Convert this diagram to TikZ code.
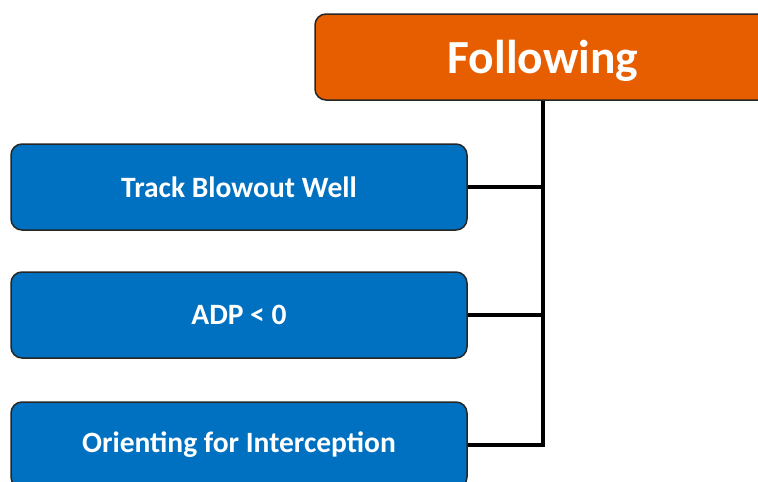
\documentclass[tikz,border=0pt]{standalone}
\usepackage{fontspec}
\setmainfont{Carlito}
\definecolor{orangebox}{RGB}{230,94,0}
\definecolor{bluebox}{RGB}{0,112,192}
\begin{document}
\begin{tikzpicture}[x=1pt,y=-1pt,
  box/.style={draw=black!85, line width=1.5pt, rounded corners=11pt, minimum width=456pt, minimum height=86pt, inner sep=0pt, text=white, font=\bfseries},
  topbox/.style={box, fill=orangebox, font=\fontsize{47.5}{50}\selectfont\bfseries},
  subbox/.style={box, fill=bluebox, font=\fontsize{29.5}{32}\selectfont\bfseries},
  link/.style={draw=black, line width=4.5pt}]
\useasboundingbox (0,0) rectangle (758,482);
\clip (0,0) rectangle (758,482);
\node[topbox] (f) at (543,57) {\raisebox{-16.5pt}[0pt][0pt]{Following}};
\node[subbox] (b1) at (239,187) {Track Blowout Well};
\node[subbox] (b2) at (239,315) {ADP < 0};
\node[subbox] (b3) at (239,445) {Orienting for Interception};
\draw[link] (f.south) |- (b1.east);
\draw[link] (f.south) |- (b2.east);
\draw[link] (f.south) |- (b3.east);
\end{tikzpicture}
\end{document}
